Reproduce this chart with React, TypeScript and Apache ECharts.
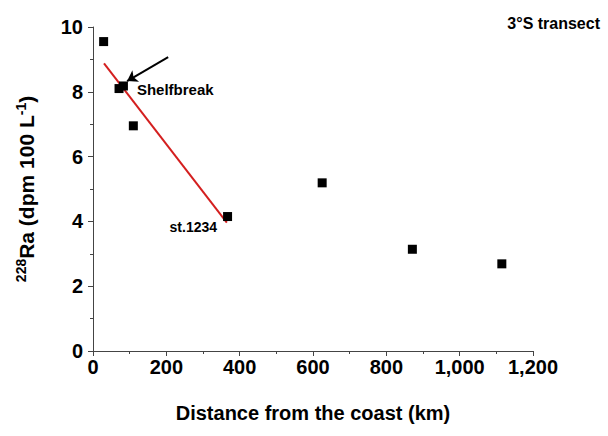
import React, { useEffect, useRef } from "react";
import * as echarts from "echarts";

const distances = [29, 71, 83, 110, 367, 625, 871, 1115];
const raValues = [9.55, 8.1, 8.18, 6.95, 4.15, 5.19, 3.14, 2.69];
const pointLabels = ["", "", "Shelfbreak", "", "st.1234", "", "", ""];
const fitX = [30, 365];
const fitY = [8.88, 3.96];
const arrowFrom = [205, 9.07];
const arrowTo = [93, 8.33];
const xTicks = [0, 200, 400, 600, 800, 1000, 1200];
const yTicks = [0, 2, 4, 6, 8, 10];

const FONT = "'Liberation Sans', Arial, sans-serif";

export default function App() {
  const ref = useRef<HTMLDivElement>(null);
  useEffect(() => {
    if (!ref.current) return;
    document.body.style.margin = "0";
    const chart = echarts.init(ref.current, undefined, { renderer: "svg" });
    const axisCommon = {
      axisLine: { show: true, lineStyle: { color: "#444", width: 1 } },
      axisTick: { show: true, inside: false, length: 5, lineStyle: { color: "#444" } },
      minorTick: { show: true, splitNumber: 2, length: 3, lineStyle: { color: "#444" } },
      splitLine: { show: false },
      axisLabel: { color: "#000", fontSize: 20, fontWeight: "bold", fontFamily: FONT },
    };
    chart.setOption({
      animation: false,
      title: {
        text: "3°S transect",
        right: 3,
        top: 10,
        textStyle: { fontSize: 16, fontWeight: "bold", color: "#000", fontFamily: FONT },
      },
      grid: { left: 93, top: 27, right: 75, bottom: 85, containLabel: false },
      xAxis: {
        type: "value",
        min: xTicks[0],
        max: xTicks[xTicks.length - 1],
        interval: 200,
        ...axisCommon,
        axisLabel: {
          ...axisCommon.axisLabel,
          margin: 6,
          formatter: (v: number) => v.toLocaleString("en-US"),
        },
        name: "Distance from the coast (km)",
        nameLocation: "middle",
        nameGap: 52,
        nameTextStyle: { fontSize: 20, fontWeight: "bold", color: "#000", fontFamily: FONT },
      },
      yAxis: {
        type: "value",
        min: yTicks[0],
        max: yTicks[yTicks.length - 1],
        interval: 2,
        ...axisCommon,
        axisLabel: { ...axisCommon.axisLabel, margin: 10 },
        name: "{sup|228}{m|Ra (dpm 100 L}{sup|-1}{m|)}",
        nameLocation: "middle",
        nameGap: 54,
        nameTextStyle: {
          fontSize: 21,
          fontWeight: "bold",
          color: "#000",
          fontFamily: FONT,
          rich: {
            m: { fontSize: 21, fontWeight: "bold", color: "#000", fontFamily: FONT, lineHeight: 25 },
            sup: {
              fontSize: 14,
              fontWeight: "bold",
              color: "#000",
              fontFamily: FONT,
              verticalAlign: "top",
              lineHeight: 25,
              padding: [0, 0, 8, 0],
            },
          },
        },
      },
      series: [
        {
          type: "line",
          data: fitX.map((x, i) => [x, fitY[i]]),
          symbol: "none",
          lineStyle: { color: "#d41f1f", width: 2 },
          z: 2,
          markLine: {
            silent: true,
            symbolSize: 10,
            lineStyle: { color: "#000", width: 2, type: "solid" },
            label: { show: false },
            data: [
              [
                { coord: arrowFrom, symbol: "none" },
                { coord: arrowTo, symbol: "arrow" },
              ],
            ],
          },
        },
        {
          type: "scatter",
          symbol: "rect",
          symbolSize: 9,
          itemStyle: { color: "#000", opacity: 1 },
          z: 3,
          data: distances.map((d, i) => {
            const item: any = { value: [d, raValues[i]] };
            if (pointLabels[i] === "Shelfbreak") {
              item.label = {
                show: true,
                formatter: pointLabels[i],
                position: "right",
                distance: 9,
                offset: [0, 4],
                color: "#000",
                opacity: 1,
                fontSize: 15,
                fontWeight: "bold",
                fontFamily: FONT,
              };
            } else if (pointLabels[i]) {
              item.label = {
                show: true,
                formatter: pointLabels[i],
                position: "left",
                distance: 6,
                offset: [0, 10],
                color: "#000",
                opacity: 1,
                fontSize: 14,
                fontWeight: "bold",
                fontFamily: FONT,
              };
            }
            return item;
          }),
        },
      ],
    });
    return () => chart.dispose();
  }, []);
  return <div ref={ref} style={{ width: 608, height: 436 }} />;
}
